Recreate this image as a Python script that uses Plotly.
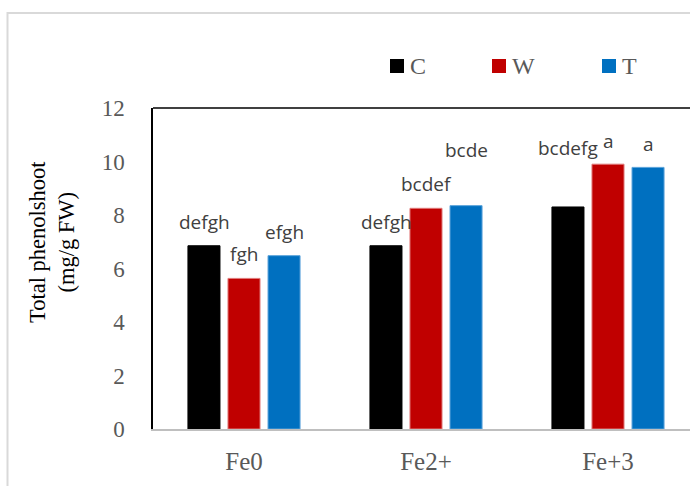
import plotly.graph_objects as go

# Fe treatments on the category axis, one series per condition
categories = ["Fe0", "Fe2+", "Fe+3"]
series_names = ["C", "W", "T"]
values_c = [6.85, 6.85, 8.30]
values_w = [5.63, 8.25, 9.90]
values_t = [6.48, 8.35, 9.78]
letters_c = ["defgh", "defgh", "bcdefg"]
letters_w = ["fgh", "bcdef", "a"]
letters_t = ["efgh", "bcde", "a"]
y_ticks = [0, 2, 4, 6, 8, 10, 12]

# styling
colors = ["#000000", "#C00000", "#0070C0"]
edge_colors = ["#000000", "#E07A7A", "#5BA3DA"]
label_lift_c = [24, 24, 59]
label_lift_w = [24, 24, 23]
label_lift_t = [24, 56, 23]
serif = "Liberation Serif"
W, H = 690, 486
L, R, T, B = 153, 0, 108, 57
plot_w = W - L - R
plot_h = H - T - B
cat_px = 182  # width of one category slot in pixels

all_values = [values_c, values_w, values_t]
all_letters = [letters_c, letters_w, letters_t]
all_lifts = [label_lift_c, label_lift_w, label_lift_t]

fig = go.Figure()
for name, vals, col, ecol in zip(series_names, all_values, colors, edge_colors):
    fig.add_trace(go.Bar(
        x=categories, y=vals, name=name,
        marker=dict(color=col, line=dict(color=ecol, width=1)),
        showlegend=False,
    ))


def px_x(px):
    return (px - L) / plot_w


def px_y(py):
    return (H - B - py) / plot_h


# significance letters above each bar
annotations = []
offsets = [-40, 0, 40]
for letters, vals, lifts, dx in zip(all_letters, all_values, all_lifts, offsets):
    for cat, v, txt, lift in zip(categories, vals, letters, lifts):
        annotations.append(dict(
            x=cat, y=v, xref="x", yref="y", text=txt, showarrow=False,
            xanchor="center", yanchor="middle", xshift=dx, yshift=lift,
            font=dict(family="Open Sans", size=19, color="#404040"),
        ))

# legend: colored square followed by the series name
legend_left = [390, 492, 602]
shapes = []
for name, col, lx in zip(series_names, colors, legend_left):
    shapes.append(dict(
        type="rect", xref="paper", yref="paper",
        x0=px_x(lx), x1=px_x(lx + 14), y0=px_y(73), y1=px_y(59),
        fillcolor=col, line=dict(width=0),
    ))
    annotations.append(dict(
        x=px_x(lx + 18), y=px_y(66), xref="paper", yref="paper",
        text=name, showarrow=False, xanchor="left", yanchor="middle",
        font=dict(family=serif, size=24, color="#595959"),
    ))

# y-axis title
annotations.append(dict(
    x=px_x(52), y=px_y(242), xref="paper", yref="paper",
    text="Total phenolshoot<br>(mg/g FW)", showarrow=False, textangle=-90,
    xanchor="center", yanchor="middle",
    font=dict(family=serif, size=22.5, color="#000000"),
))

# outer chart border (light gray) and top frame line
shapes.append(dict(
    type="rect", xref="paper", yref="paper",
    x0=px_x(7.5), x1=px_x(W + 20), y0=px_y(H + 20), y1=px_y(13),
    line=dict(color="#D9D9D9", width=2), fillcolor="rgba(0,0,0,0)", layer="below",
))
shapes.append(dict(
    type="line", xref="paper", yref="paper",
    x0=0, x1=px_x(W + 5), y0=1, y1=1,
    line=dict(color="#000000", width=1.5),
))

fig.update_layout(
    width=W, height=H,
    margin=dict(l=L, r=R, t=T, b=B),
    paper_bgcolor="white", plot_bgcolor="white",
    barmode="group", bargap=0.34, bargroupgap=0.2,
    annotations=annotations, shapes=shapes,
    xaxis=dict(
        range=[-0.5, -0.5 + plot_w / cat_px],
        showline=True, linecolor="#BFBFBF", linewidth=2,
        showgrid=False, ticks="", ticklabelstandoff=9,
        tickfont=dict(family=serif, size=25, color="#595959"),
    ),
    yaxis=dict(
        range=[0, 12], tickvals=y_ticks,
        showline=True, linecolor="#000000", linewidth=1.5,
        showgrid=False, zeroline=False, ticks="", ticklabelstandoff=22,
        tickfont=dict(family=serif, size=23, color="#595959"),
    ),
)

fig.write_html("out.html")
